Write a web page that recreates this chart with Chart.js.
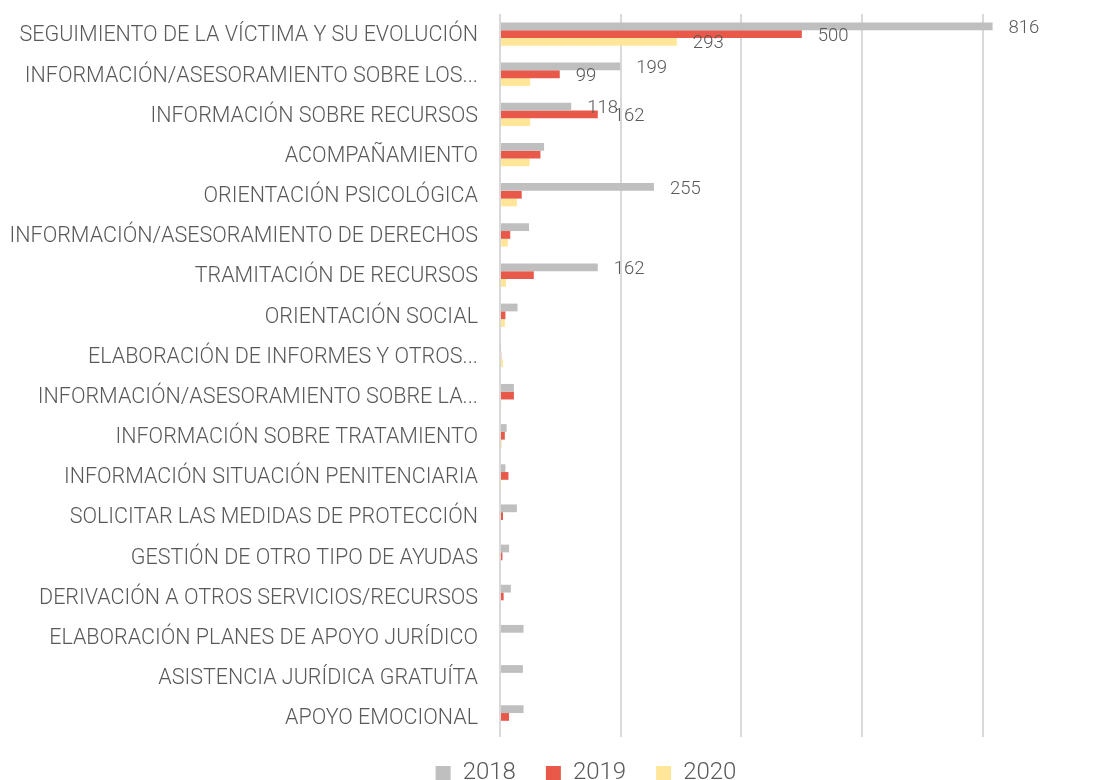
<!DOCTYPE html>
<html>
<head>
<meta charset="utf-8">
<script src="https://cdn.jsdelivr.net/npm/chart.js@4/dist/chart.umd.min.js"></script>
<style>
  html, body { margin: 0; padding: 0; background: #fff; }
  #wrap { width: 1094px; height: 780px; position: relative; }
</style>
</head>
<body>
<div id="wrap"><canvas id="c"></canvas></div>
<script>
// Tipos de intervención
const categories = [
  'SEGUIMIENTO DE LA VÍCTIMA Y SU EVOLUCIÓN',
  'INFORMACIÓN/ASESORAMIENTO SOBRE LOS...',
  'INFORMACIÓN SOBRE RECURSOS',
  'ACOMPAÑAMIENTO',
  'ORIENTACIÓN PSICOLÓGICA',
  'INFORMACIÓN/ASESORAMIENTO DE DERECHOS',
  'TRAMITACIÓN DE RECURSOS',
  'ORIENTACIÓN SOCIAL',
  'ELABORACIÓN DE INFORMES Y OTROS...',
  'INFORMACIÓN/ASESORAMIENTO SOBRE LA...',
  'INFORMACIÓN SOBRE TRATAMIENTO',
  'INFORMACIÓN SITUACIÓN PENITENCIARIA',
  'SOLICITAR LAS MEDIDAS DE PROTECCIÓN',
  'GESTIÓN DE OTRO TIPO DE AYUDAS',
  'DERIVACIÓN A OTROS SERVICIOS/RECURSOS',
  'ELABORACIÓN PLANES DE APOYO JURÍDICO',
  'ASISTENCIA JURÍDICA GRATUÍTA',
  'APOYO EMOCIONAL'
];

const years = ['2018', '2019', '2020'];

const values2018 = [816, 199, 118, 73, 255, 48, 162, 29, 1, 23, 11, 9, 28, 15, 18, 39, 38, 39];
const values2019 = [500, 99, 162, 67, 36, 17, 56, 9, 2, 23, 8, 14, 5, 4, 6, 0, 0, 15];
const values2020 = [293, 50, 50, 49, 28, 13, 10, 8, 5, 2, 3, 1, 0, 0, 0, 0, 0, 0];

// Which bars carry a value label (category indices per series)
const labeled2018 = [0, 1, 2, 4, 6];
const labeled2019 = [0, 1, 2];
const labeled2020 = [0];

const gridTicks = [0, 200, 400, 600, 800];

const colors = ['#bfbfbf', '#e8594a', '#ffe699'];
const textColor = '#595959';
const fontFamily = 'Roboto, "Open Sans", sans-serif';

const seriesValues = [values2018, values2019, values2020];
const seriesLabeled = [labeled2018, labeled2019, labeled2020];

// Draws the value next to selected bars
const valueLabels = {
  id: 'valueLabels',
  afterDatasetsDraw(chart) {
    const ctx = chart.ctx;
    ctx.save();
    ctx.font = '300 18.5px ' + fontFamily;
    ctx.fillStyle = textColor;
    ctx.textAlign = 'left';
    ctx.textBaseline = 'middle';
    chart.data.datasets.forEach((ds, di) => {
      const meta = chart.getDatasetMeta(di);
      seriesLabeled[di].forEach(i => {
        const bar = meta.data[i];
        ctx.fillText(String(ds.data[i]), bar.x + 16, bar.y + 2);
      });
    });
    ctx.restore();
  }
};

// Moves the legend row up and to the right of the canvas centre
const legendPlace = {
  id: 'legendPlace',
  afterLayout(chart) {
    const lg = chart.legend;
    if (lg) {
      lg.top -= 6;
      lg.left += 39;
      lg.right += 39;
    }
  }
};

new Chart(document.getElementById('c'), {
  type: 'bar',
  data: {
    labels: categories,
    datasets: years.map((y, i) => ({
      label: y,
      data: seriesValues[i],
      backgroundColor: colors[i],
      borderWidth: 0,
      categoryPercentage: 0.58,
      barPercentage: 1.0
    }))
  },
  options: {
    indexAxis: 'y',
    responsive: true,
    maintainAspectRatio: false,
    animation: false,
    layout: { padding: { top: 14, left: 0, right: 0, bottom: 0 } },
    plugins: {
      legend: {
        position: 'bottom',
        maxHeight: 43,
        labels: {
          boxWidth: 15,
          boxHeight: 14,
          color: textColor,
          font: { family: fontFamily, size: 24, weight: '300' },
          padding: 30
        }
      },
      tooltip: { enabled: false }
    },
    scales: {
      x: {
        min: 0,
        max: 984,
        afterBuildTicks(scale) {
          scale.ticks = gridTicks.map(v => ({ value: v }));
        },
        ticks: { display: false },
        grid: { color: '#d9d9d9', lineWidth: 2, drawTicks: false },
        border: { display: false }
      },
      y: {
        afterFit(scale) {
          scale.width = 500;
          scale.paddingTop = 0;
          scale.paddingBottom = 0;
        },
        ticks: {
          color: textColor,
          font: { family: fontFamily, size: 21.5, weight: '300' },
          padding: 22,
          labelOffset: 2,
          autoSkip: false
        },
        grid: { display: false, drawTicks: false },
        border: { display: false }
      }
    }
  },
  plugins: [valueLabels, legendPlace]
});
</script>
</body>
</html>
